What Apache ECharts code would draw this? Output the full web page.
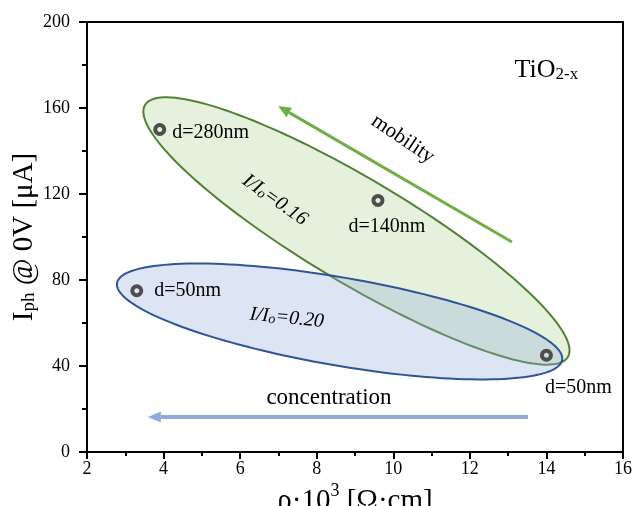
<!DOCTYPE html>
<html>
<head>
<meta charset="utf-8">
<script src="https://cdn.jsdelivr.net/npm/echarts@6/dist/echarts.min.js"></script>
<style>html,body{margin:0;padding:0;background:#fff}#c{width:632px;height:506px}</style>
</head>
<body>
<div id="c"></div>
<script>
// ---- data ----
const rho = [3.9, 9.6, 3.3, 14.0];          // ρ·10^3 [Ω·cm]
const iph = [150, 117, 75, 45];             // I_ph @ 0V [μA]
const thickness = ['d=280nm', 'd=140nm', 'd=50nm', 'd=50nm'];
const xTicks = [2, 4, 6, 8, 10, 12, 14, 16];
const yTicks = [0, 40, 80, 120, 160, 200];

const FONT = '"Liberation Serif", "Times New Roman", serif';

// label placement per point (style only)
const labelPlacement = [
  {position: 'right', distance: 6, offset: [0, 3]},
  {position: 'bottom', distance: 10, offset: [9, 0]},
  {position: 'right', distance: 11, offset: [0, 0]},
  {position: 'bottom', distance: 10, offset: [32, 6]}
];

const pointData = rho.map((x, i) => ({
  value: [x, iph[i]],
  label: Object.assign({show: true, formatter: thickness[i], color: '#000', fontSize: 20, fontFamily: FONT}, labelPlacement[i])
}));

function ellipsePts(api, A, B, b) {
  const pA = api.coord(A), pB = api.coord(B);
  const cx = (pA[0] + pB[0]) / 2, cy = (pA[1] + pB[1]) / 2;
  const a = Math.hypot(pB[0] - pA[0], pB[1] - pA[1]) / 2;
  const th = Math.atan2(pB[1] - pA[1], pB[0] - pA[0]);
  const pts = [];
  for (let i = 0; i < 160; i++) {
    const t = 2 * Math.PI * i / 160;
    const lx = a * Math.cos(t), ly = b * Math.sin(t);
    pts.push([cx + lx * Math.cos(th) - ly * Math.sin(th), cy + lx * Math.sin(th) + ly * Math.cos(th)]);
  }
  return pts;
}

function arrow(api, from, to, color, width, headLen, headW) {
  const p0 = api.coord(from), p1 = api.coord(to);
  const ang = Math.atan2(p1[1] - p0[1], p1[0] - p0[0]);
  const bx = p1[0] - headLen * Math.cos(ang), by = p1[1] - headLen * Math.sin(ang);
  const nx = -Math.sin(ang), ny = Math.cos(ang);
  return [
    {type: 'line', shape: {x1: p0[0], y1: p0[1], x2: bx, y2: by}, style: {stroke: color, lineWidth: width}},
    {type: 'polygon', shape: {points: [[p1[0], p1[1]], [bx + nx * headW / 2, by + ny * headW / 2], [bx - nx * headW / 2, by - ny * headW / 2]]}, style: {fill: color}}
  ];
}

function txt(api, pos, text, size, rotDeg, extra) {
  const p = api.coord(pos);
  return {
    type: 'text', x: p[0], y: p[1], rotation: (rotDeg || 0) * Math.PI / 180,
    style: Object.assign({text: text, fill: '#000', fontSize: size, fontFamily: FONT, align: 'center', verticalAlign: 'middle'}, extra || {})
  };
}

function renderAnno(params, api) {
  const children = [];
  children.push({type: 'polygon', shape: {points: ellipsePts(api, [3.515, 161.4], [14.56, 44.2], 52)},
    style: {fill: 'rgba(169,209,142,0.3)', stroke: '#548235', lineWidth: 2}});
  children.push({type: 'polygon', shape: {points: ellipsePts(api, [2.784, 78.6], [14.41, 42.8], 44)},
    style: {fill: 'rgba(143,170,220,0.3)', stroke: '#2f5597', lineWidth: 2}});
  children.push(...arrow(api, [13.10, 97.7], [6.99, 160.9], '#70ad47', 3, 13, 11));
  children.push(...arrow(api, [13.52, 16.3], [3.59, 16.3], '#8faadc', 4, 13, 11));
  children.push(txt(api, [14.0, 177.7], '{a|TiO}{s|2-x}', 26, 0, {
    rich: {a: {fontSize: 26, fontFamily: FONT, lineHeight: 26, verticalAlign: 'top'},
           s: {fontSize: 17, fontFamily: FONT, lineHeight: 17, padding: [14, 0, 0, 0], verticalAlign: 'bottom'}}
  }));
  children.push(txt(api, [10.25, 145.5], 'mobility', 21, -34));
  children.push(txt(api, [6.91, 117.2], '{a|I/I}{s|o}{a|=0.16}', 20, -35, {
    rich: {a: {fontSize: 20, fontFamily: FONT, fontStyle: 'italic', lineHeight: 20, verticalAlign: 'top'},
           s: {fontSize: 14, fontFamily: FONT, fontStyle: 'italic', lineHeight: 14, padding: [12, 0, 0, 0], verticalAlign: 'bottom'}}
  }));
  children.push(txt(api, [7.22, 62.3], '{a|I/I}{s|o}{a|=0.20}', 20, -6, {
    rich: {a: {fontSize: 20, fontFamily: FONT, fontStyle: 'italic', lineHeight: 20, verticalAlign: 'top'},
           s: {fontSize: 14, fontFamily: FONT, fontStyle: 'italic', lineHeight: 14, padding: [12, 0, 0, 0], verticalAlign: 'bottom'}}
  }));
  children.push(txt(api, [8.32, 25.1], 'concentration', 23, 0));
  return {type: 'group', children: children};
}

const chart = echarts.init(document.getElementById('c'));
chart.setOption({
  animation: false,
  backgroundColor: '#fff',
  grid: {left: 87, right: 9, top: 22, bottom: 54, containLabel: false, outerBoundsMode: 'none',
         show: true, borderColor: '#000', borderWidth: 2, backgroundColor: 'transparent'},
  xAxis: {
    type: 'value', min: xTicks[0], max: xTicks[xTicks.length - 1], interval: 2,
    name: '{a|ρ·10}{s|3}{a| [Ω·cm]}', nameLocation: 'middle', nameGap: 30, nameMoveOverlap: false,
    nameTextStyle: {rich: {
      a: {fontSize: 29, fontFamily: FONT, color: '#000', lineHeight: 34, verticalAlign: 'bottom'},
      s: {fontSize: 18, fontFamily: FONT, color: '#000', lineHeight: 18, verticalAlign: 'top'}}},
    axisLine: {show: true, onZero: false, lineStyle: {color: '#000', width: 2}},
    axisTick: {show: true, inside: false, length: 7, lineStyle: {color: '#000', width: 2}},
    minorTick: {show: true, splitNumber: 2, length: 4, lineStyle: {color: '#000', width: 2}},
    splitLine: {show: false},
    axisLabel: {color: '#000', fontSize: 18, fontFamily: FONT, margin: 8}
  },
  yAxis: {
    type: 'value', min: yTicks[0], max: yTicks[yTicks.length - 1], interval: 40,
    name: '{a|I}{s|ph}{a| @ 0V [μA]}', nameLocation: 'middle', nameGap: 48, nameRotate: 90, nameMoveOverlap: false,
    nameTextStyle: {rich: {
      a: {fontSize: 29, fontFamily: FONT, color: '#000', lineHeight: 29, verticalAlign: 'top'},
      s: {fontSize: 19, fontFamily: FONT, color: '#000', lineHeight: 19, padding: [16, 0, 0, 0], verticalAlign: 'bottom'}}},
    axisLine: {show: true, onZero: false, lineStyle: {color: '#000', width: 2}},
    axisTick: {show: true, inside: false, length: 8, lineStyle: {color: '#000', width: 2}},
    minorTick: {show: true, splitNumber: 2, length: 5, lineStyle: {color: '#000', width: 2}},
    splitLine: {show: false},
    axisLabel: {color: '#000', fontSize: 18, fontFamily: FONT, margin: 17}
  },
  series: [
    {type: 'custom', coordinateSystem: 'cartesian2d', data: [[8, 100]], renderItem: renderAnno, z: 1, silent: true, clip: false},
    {type: 'scatter', data: pointData, symbol: 'circle', symbolSize: 9, z: 3,
     itemStyle: {color: 'rgba(255,255,255,0)', borderColor: '#4d4d4d', borderWidth: 4, opacity: 1}}
  ]
});
</script>
</body>
</html>
